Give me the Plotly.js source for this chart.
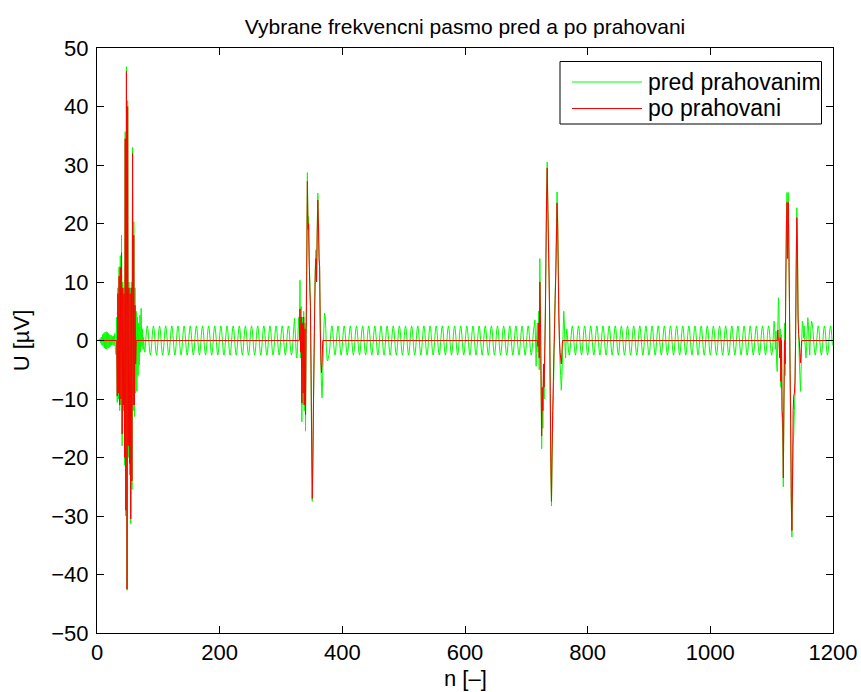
<!DOCTYPE html>
<html>
<head>
<meta charset="utf-8">
<script src="https://cdn.plot.ly/plotly-3.0.1.min.js"></script>
<style>html,body{margin:0;padding:0;background:#fff;}#chart{width:861px;height:692px;}</style>
</head>
<body>
<div id="chart"></div>
<script>
// ---- tick labels / names ----
const xTicks = [0, 200, 400, 600, 800, 1000, 1200];
const yTicks = [-50, -40, -30, -20, -10, 0, 10, 20, 30, 40, 50];
const seriesNames = ['pred prahovanim', 'po prahovani'];

// ---- green signal (pred prahovanim), one value per sample n ----
const greenB1Start = 0;   // n = 0..77
const greenB1 = [0,0,0,0.1,-0.1,0.3,-0.4,0.6,-0.8,1.0,
  -1.0,1.2,-1.3,1.4,-1.4,1.5,-1.5,1.4,-1.3,1.2,
  -1.2,1.0,-1.0,0.9,-0.8,0.7,-0.7,0.8,-0.9,1.2,
  -1.5,-2.4,4,-10.6,9,-10,12.6,-12,14.5,-11,
  18,-18,10,-12,9,-21.3,35.7,-30,46.8,-42.7,
  41,-20,10,-23,9,-31.3,10,-25.5,33,-12,
  20.3,-13,9,-9,5,-8.7,4,-6,3,-4.2,
  4.3,-2,5.5,-1,2,-1.5,0.5,-1.5];
const greenSeg1Start = 78;  // n = 78..319
const greenSeg1 = [-2,-.8,.8,2,
  2.5,2,.8,-.8,-2,-2.5,-2,-.8,.8,2, 2.5,2,.8,-.8,-2,-2.5,-2,-.8,.8,2, 2.5,2,.8,-.8,-2,-2.5,-2,-.8,.8,2, 2.5,2,.8,-.8,-2,-2.5,-2,-.8,.8,2, 2.5,2,.8,-.8,-2,-2.5,-2,-.8,.8,2,
  2.5,2,.8,-.8,-2,-2.5,-2,-.8,.8,2, 2.5,2,.8,-.8,-2,-2.5,-2,-.8,.8,2, 2.5,2,.8,-.8,-2,-2.5,-2,-.8,.8,2, 2.5,2,.8,-.8,-2,-2.5,-2,-.8,.8,2, 2.5,2,.8,-.8,-2,-2.5,-2,-.8,.8,2,
  2.5,2,.8,-.8,-2,-2.5,-2,-.8,.8,2, 2.5,2,.8,-.8,-2,-2.5,-2,-.8,.8,2, 2.5,2,.8,-.8,-2,-2.5,-2,-.8,.8,2, 2.5,2,.8,-.8,-2,-2.5,-2,-.8,.8,2, 2.5,2,.8,-.8,-2,-2.5,-2,-.8,.8,2,
  2.5,2,.8,-.8,-2,-2.5,-2,-.8,.8,2, 2.5,2,.8,-.8,-2,-2.5,-2,-.8,.8,2, 2.5,2,.8,-.8,-2,-2.5,-2,-.8,.8,2, 2.5,2,.8,-.8,-2,-2.5,-2,-.8,.8,2, 2.5,2,.8,-.8,-2,-2.5,-2,-.8,.8,2,
  2.5,2,.8,-.8,-2,-2.5,-2,-.8,.8,2, 2.5,2,.8,-.8,-2,-2.5,-2,-.8,.8,2, 2.5,2,.8,-.8,-2,-2.5,-2,-.8,.8,2,
  2.5,2,.8,-.8,-2,-2.5,-2,-.8];
const greenB2Start = 320;  // n = 320..378
const greenB2 = [0.8,2.4,3.8,2.0,-0.5,-2.8,-3.0,-1.0,2.0,4.0,
  1.0,10.3,-3,5.8,-13.9,4,-11,5,-12,3,
  -15.5,2,14,28.7,20,21.2,14.3,10,5.9,-6,
  -18,-27.5,-21,-11,-2,7,13,15.5,11,19,
  25.2,21,15.3,12,3,-4,-8,-9.8,-6,-1.5,
  2.5,4.7,4.2,2.0,-1,-3.2,-3.5,-3.0,-2.5];
const greenSeg2Start = 379;  // n = 379..712
const greenSeg2 = [-2,-.8,.8,2,
  2.5,2,.8,-.8,-2,-2.5,-2,-.8,.8,2, 2.5,2,.8,-.8,-2,-2.5,-2,-.8,.8,2, 2.5,2,.8,-.8,-2,-2.5,-2,-.8,.8,2, 2.5,2,.8,-.8,-2,-2.5,-2,-.8,.8,2, 2.5,2,.8,-.8,-2,-2.5,-2,-.8,.8,2,
  2.5,2,.8,-.8,-2,-2.5,-2,-.8,.8,2, 2.5,2,.8,-.8,-2,-2.5,-2,-.8,.8,2, 2.5,2,.8,-.8,-2,-2.5,-2,-.8,.8,2, 2.5,2,.8,-.8,-2,-2.5,-2,-.8,.8,2, 2.5,2,.8,-.8,-2,-2.5,-2,-.8,.8,2,
  2.5,2,.8,-.8,-2,-2.5,-2,-.8,.8,2, 2.5,2,.8,-.8,-2,-2.5,-2,-.8,.8,2, 2.5,2,.8,-.8,-2,-2.5,-2,-.8,.8,2, 2.5,2,.8,-.8,-2,-2.5,-2,-.8,.8,2, 2.5,2,.8,-.8,-2,-2.5,-2,-.8,.8,2,
  2.5,2,.8,-.8,-2,-2.5,-2,-.8,.8,2, 2.5,2,.8,-.8,-2,-2.5,-2,-.8,.8,2, 2.5,2,.8,-.8,-2,-2.5,-2,-.8,.8,2, 2.5,2,.8,-.8,-2,-2.5,-2,-.8,.8,2, 2.5,2,.8,-.8,-2,-2.5,-2,-.8,.8,2,
  2.5,2,.8,-.8,-2,-2.5,-2,-.8,.8,2, 2.5,2,.8,-.8,-2,-2.5,-2,-.8,.8,2, 2.5,2,.8,-.8,-2,-2.5,-2,-.8,.8,2, 2.5,2,.8,-.8,-2,-2.5,-2,-.8,.8,2, 2.5,2,.8,-.8,-2,-2.5,-2,-.8,.8,2,
  2.5,2,.8,-.8,-2,-2.5,-2,-.8,.8,2, 2.5,2,.8,-.8,-2,-2.5,-2,-.8,.8,2, 2.5,2,.8,-.8,-2,-2.5,-2,-.8,.8,2, 2.5,2,.8,-.8,-2,-2.5,-2,-.8,.8,2, 2.5,2,.8,-.8,-2,-2.5,-2,-.8,.8,2,
  2.5,2,.8,-.8,-2,-2.5,-2,-.8,.8,2, 2.5,2,.8,-.8,-2,-2.5,-2,-.8,.8,2, 2.5,2,.8,-.8,-2,-2.5,-2,-.8,.8,2];
const greenB3Start = 713;  // n = 713..765
const greenB3 = [2.5,3.5,0,-4.4,1,3,-2,5,-5,14,
  6,-8,-18.5,-10,-15,-5,-10,-3,5,15,
  25,30.5,24,18,12,5,-10,-22,-28.3,-20,
  -14,-10,-4,3,8,12,18,25.4,22,14,
  6,0,-4,-6,-8.5,-6,-3,1.5,5,3,
  -1,-3,0.5];
const greenSeg3Start = 766;  // n = 766..1102
const greenSeg3 = [2,.8,-.8,-2,-2.5,-2,-.8,.8,2,
  2.5,2,.8,-.8,-2,-2.5,-2,-.8,.8,2, 2.5,2,.8,-.8,-2,-2.5,-2,-.8,.8,2, 2.5,2,.8,-.8,-2,-2.5,-2,-.8,.8,2, 2.5,2,.8,-.8,-2,-2.5,-2,-.8,.8,2, 2.5,2,.8,-.8,-2,-2.5,-2,-.8,.8,2,
  2.5,2,.8,-.8,-2,-2.5,-2,-.8,.8,2, 2.5,2,.8,-.8,-2,-2.5,-2,-.8,.8,2, 2.5,2,.8,-.8,-2,-2.5,-2,-.8,.8,2, 2.5,2,.8,-.8,-2,-2.5,-2,-.8,.8,2, 2.5,2,.8,-.8,-2,-2.5,-2,-.8,.8,2,
  2.5,2,.8,-.8,-2,-2.5,-2,-.8,.8,2, 2.5,2,.8,-.8,-2,-2.5,-2,-.8,.8,2, 2.5,2,.8,-.8,-2,-2.5,-2,-.8,.8,2, 2.5,2,.8,-.8,-2,-2.5,-2,-.8,.8,2, 2.5,2,.8,-.8,-2,-2.5,-2,-.8,.8,2,
  2.5,2,.8,-.8,-2,-2.5,-2,-.8,.8,2, 2.5,2,.8,-.8,-2,-2.5,-2,-.8,.8,2, 2.5,2,.8,-.8,-2,-2.5,-2,-.8,.8,2, 2.5,2,.8,-.8,-2,-2.5,-2,-.8,.8,2, 2.5,2,.8,-.8,-2,-2.5,-2,-.8,.8,2,
  2.5,2,.8,-.8,-2,-2.5,-2,-.8,.8,2, 2.5,2,.8,-.8,-2,-2.5,-2,-.8,.8,2, 2.5,2,.8,-.8,-2,-2.5,-2,-.8,.8,2, 2.5,2,.8,-.8,-2,-2.5,-2,-.8,.8,2, 2.5,2,.8,-.8,-2,-2.5,-2,-.8,.8,2,
  2.5,2,.8,-.8,-2,-2.5,-2,-.8,.8,2, 2.5,2,.8,-.8,-2,-2.5,-2,-.8,.8,2, 2.5,2,.8,-.8,-2,-2.5,-2,-.8,.8,2, 2.5,2,.8,-.8,-2,-2.5,-2,-.8,.8,2, 2.5,2,.8,-.8,-2,-2.5,-2,-.8,.8,2,
  2.5,2,.8,-.8,-2,-2.5,-2,-.8,.8,2, 2.5,2,.8,-.8,-2,-2.5,-2,-.8,.8,2,
  2.5,2,.8,-.8,-2,-2.5,-2,-.8];
const greenB4Start = 1103;  // n = 1103..1166
const greenB4 = [1.5,3.3,2.0,-1.5,1.6,-3.5,-5.3,1.8,7.3,4.7,
  -3,2,-8,1,-13,-15.8,-25,-12,3,-6,
  10,20,25.3,15,25.3,18,6.5,-5,-15,-28,
  -33.6,-25,-18,-16,-12,-9.5,0,13.9,22.7,18,
  4.2,1,-3,-6,-8.7,-5,0,3.3,2.5,0.5,
  2.5,0,-1.5,-3,-1,2,3.9,2.5,-0.5,-2.5,
  0,2.0,3.3,3.0];
const greenSeg4Start = 1167;  // n = 1167..1199
const greenSeg4 = [2,.8,-.8,-2,-2.5,-2,-.8,.8,2,
  2.5,2,.8,-.8,-2,-2.5,-2,-.8,.8,2, 2.5,2,.8,-.8,-2,-2.5,-2,-.8,.8,2,
  2.5,2,.8,-.8];

// ---- red signal (po prahovani): zero except the bursts ----
const redB1Start = 32;
const redB1 = [0,-9.5,8,-9,11,-11,12.5,-10,15,-16,
  9,-11,8,-20,34.5,-29,46,-42.5,40,-18,
  9,-21,8,-30.5,9,-24,32,-11,18,-11,
  6,-4,0];
const redB2Start = 329;
const redB2 = [0,0,5.4,-2,4,-10.7,3,-9,4,-11,
  2,-12.7,1,12,27.2,19,20,13,9,5.8,
  -5,-17,-27,-20,-10,-2,6,12,14,10,
  18,24,20,14,12.7,2,-3,-5.5,-3.8,0];
const redB3Start = 717;
const redB3 = [0,0,-1,3,-3,10,4,-6,-16.3,-8,
  -12,-4,-8,-2,4,14,24,29.5,23,17,
  11,4,-9,-21,-27.5,-19,-12,-7,-2,2,
  7,11,17,23.5,20,12,4,0,-2,-3,
  -4,-2,0];
const redB4Start = 1109;
const redB4 = [0,1.8,0,0,-3,0.5,-7,0,-12,-13.3,
  -23.5,-10,0,-4,9,19,23.6,14,23.6,16,
  6.5,-5,-14,-27,-32.5,-24,-12,-9.5,-9,-7,
  0,12,21,16,4.2,1,0,-2,-3.8,-2,
  0];
const nLast = 1199;

// ---- build traces ----
const greenX = [], greenY = [];
[[greenB1Start, greenB1], [greenSeg1Start, greenSeg1], [greenB2Start, greenB2], [greenSeg2Start, greenSeg2],
 [greenB3Start, greenB3], [greenSeg3Start, greenSeg3], [greenB4Start, greenB4], [greenSeg4Start, greenSeg4]
].forEach(([s, vals]) => vals.forEach((v, i) => { greenX.push(s + i); greenY.push(v); }));

const redX = [0], redY = [0];
[[redB1Start, redB1], [redB2Start, redB2], [redB3Start, redB3], [redB4Start, redB4]].forEach(([s, vals]) => {
  vals.forEach((v, i) => { redX.push(s + i); redY.push(v); });
});
redX.push(nLast); redY.push(0);

const FONT = 'Liberation Sans, Arial, Helvetica, sans-serif';
const FS = 21;
const FS_TICK = 22;
const FS_LEG = 23;

const traces = [
  {x: greenX, y: greenY, type: 'scatter', mode: 'lines', name: seriesNames[0],
   line: {color: '#00ff00', width: 1, simplify: false}, showlegend: false, hoverinfo: 'skip'},
  {x: redX, y: redY, type: 'scatter', mode: 'lines', name: seriesNames[1],
   line: {color: '#ff0000', width: 1, simplify: false}, showlegend: false, hoverinfo: 'skip'}
];

// plot area in pixels
const L = 97, R = 833, T = 48, B = 633, W = 861, H = 692;
const px = v => (v - L) / (R - L);
const py = v => (B - v) / (B - T);

const axisCommon = {
  ticks: 'inside', ticklen: 7, tickwidth: 1, tickcolor: '#000',
  showline: true, linecolor: '#000', linewidth: 1, mirror: 'ticks',
  showgrid: false, zeroline: false, fixedrange: true,
  tickfont: {family: FONT, size: FS_TICK, color: '#000'}
};

const layout = {
  width: W, height: H,
  margin: {l: L, r: W - R, t: T, b: H - B, pad: 0},
  paper_bgcolor: '#fff', plot_bgcolor: '#fff',
  font: {family: FONT, size: FS, color: '#000'},
  title: {text: 'Vybrane frekvencni pasmo pred a po prahovani', x: 0.5, xref: 'paper',
          y: 1 - 27 / H, yref: 'container', yanchor: 'middle',
          font: {family: FONT, size: FS, color: '#000'}},
  xaxis: Object.assign({}, axisCommon, {
    range: [0, 1200], tickmode: 'array', tickvals: xTicks, ticktext: xTicks.map(String),
    ticklabelstandoff: 0
  }),
  yaxis: Object.assign({}, axisCommon, {
    range: [-50, 50], tickmode: 'array', tickvals: yTicks,
    ticktext: yTicks.map(v => v < 0 ? '\u2212' + Math.abs(v) : String(v)),
    ticklabelstandoff: 3,
    title: {text: 'U [µV]', font: {family: FONT, size: FS_TICK, color: '#000'}, standoff: 15}
  }),
  showlegend: false,
  shapes: [
    {type: 'rect', xref: 'paper', yref: 'paper', x0: px(560), x1: px(821.5), y0: py(124), y1: py(61.5),
     line: {color: '#000', width: 1}, fillcolor: '#fff', layer: 'above'},
    {type: 'line', xref: 'paper', yref: 'paper', x0: px(572), x1: px(642), y0: py(82), y1: py(82),
     line: {color: '#00ff00', width: 1}, layer: 'above'},
    {type: 'line', xref: 'paper', yref: 'paper', x0: px(572), x1: px(642), y0: py(108.5), y1: py(108.5),
     line: {color: '#ff0000', width: 1}, layer: 'above'}
  ],
  annotations: [
    {xref: 'paper', yref: 'paper', x: 0.5, y: py(664), xanchor: 'center', yanchor: 'top',
     text: 'n [–]', showarrow: false, font: {family: FONT, size: FS_TICK, color: '#000'}},
    {xref: 'paper', yref: 'paper', x: px(646), y: py(82), xanchor: 'left', yanchor: 'middle',
     text: seriesNames[0], showarrow: false, font: {family: FONT, size: FS_LEG, color: '#000'}},
    {xref: 'paper', yref: 'paper', x: px(646), y: py(108.5), xanchor: 'left', yanchor: 'middle',
     text: seriesNames[1], showarrow: false, font: {family: FONT, size: FS_LEG, color: '#000'}}
  ]
};

Plotly.newPlot('chart', traces, layout, {displayModeBar: false, staticPlot: true});
</script>
</body>
</html>
